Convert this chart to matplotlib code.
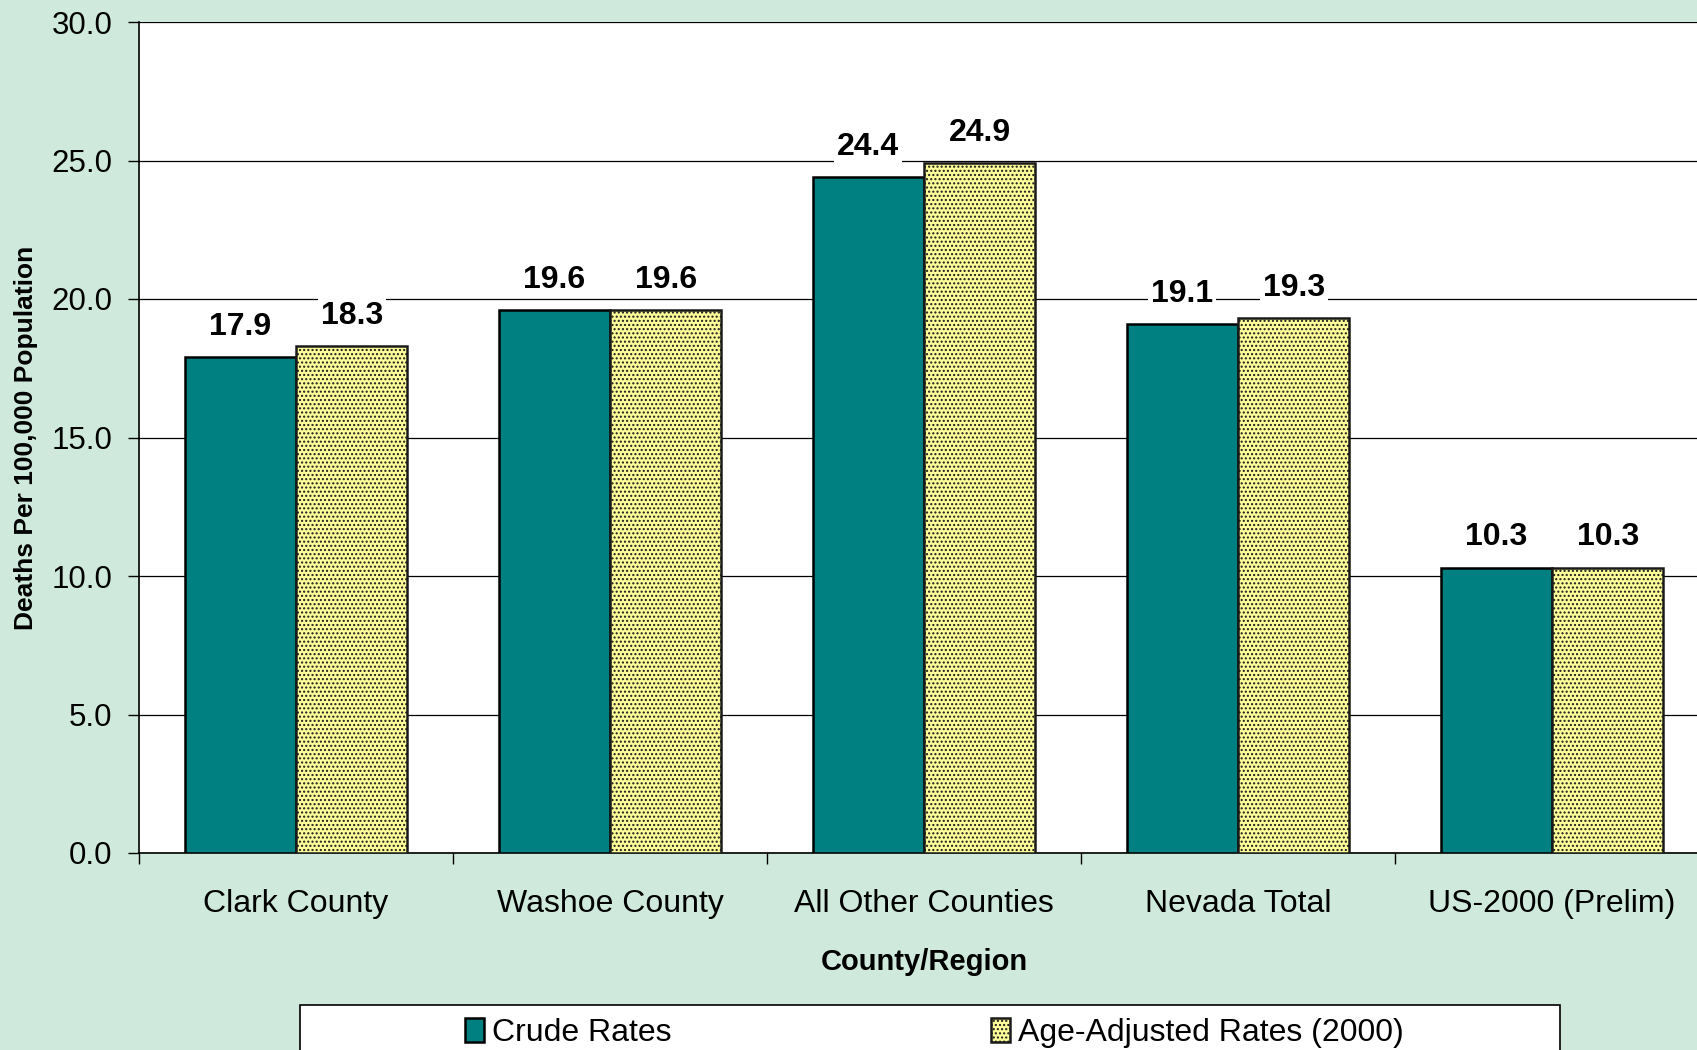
import numpy as np
import matplotlib.pyplot as plt
from matplotlib.patches import Rectangle, Patch
from matplotlib.ticker import FormatStrFormatter, FixedLocator

plt.rcParams["font.family"] = ["Liberation Sans", "DejaVu Sans"]
plt.rcParams["hatch.linewidth"] = 1.0

# ── data ──────────────────────────────────────────────────────────────────────
regions = ["Clark County", "Washoe County", "All Other Counties",
           "Nevada Total", "US-2000 (Prelim)"]
crude = [17.9, 19.6, 24.4, 19.1, 10.3]
age_adj = [18.3, 19.6, 24.9, 19.3, 10.3]
series_names = ["Crude Rates", "Age-Adjusted Rates (2000)"]

BG = "#CFEADC"
TEAL = "#008080"
YELLOW = "#FFFF99"
EDGE = "#1a1a1a"

fig = plt.figure(figsize=(16.97, 10.5), dpi=100, facecolor=BG)
ax = fig.add_axes([139 / 1697, 1 - 853 / 1050, 1570 / 1697, (853 - 22) / 1050])
ax.set_facecolor("white")

x = np.arange(len(regions))
w = 0.355
b1 = ax.bar(x - w / 2, crude, w, color=TEAL, edgecolor="black", lw=1.8, zorder=3)
b2 = ax.bar(x + w / 2, age_adj, w, color=YELLOW, edgecolor=EDGE, lw=1.8,
            hatch="....", zorder=3)

for bars, vals in ((b1, crude), (b2, age_adj)):
    for rect, v in zip(bars, vals):
        ax.annotate(f"{v:.1f}", (rect.get_x() + rect.get_width() / 2, v),
                    xytext=(0, 11), textcoords="offset points",
                    ha="center", va="bottom", fontsize=23, fontweight="bold",
                    bbox=dict(facecolor="white", edgecolor="none", pad=2),
                    zorder=5)

ax.set_xlim(-0.5, len(regions) - 0.5)
ax.set_ylim(0, 30)
ax.set_yticks(np.arange(0, 30.1, 5))
ax.yaxis.set_major_formatter(FormatStrFormatter("%.1f"))
ax.yaxis.grid(True, color="black", lw=0.9)
ax.set_axisbelow(True)

ax.set_xticks(x)
ax.set_xticklabels(regions, fontsize=23)
ax.xaxis.set_minor_locator(FixedLocator(np.arange(-0.5, len(regions), 1.0)))
ax.tick_params(axis="x", which="major", length=0, pad=26)
ax.tick_params(axis="x", which="minor", length=8, width=1, direction="out")
ax.tick_params(axis="y", labelsize=22.5, length=8, width=1, direction="out", pad=11)

for s in ("top", "right"):
    ax.spines[s].set_visible(False)
ax.spines["left"].set_linewidth(1.2)
ax.spines["bottom"].set_linewidth(1.2)

ax.set_xlabel("County/Region", fontsize=21, fontweight="bold", labelpad=21)
ax.set_ylabel("Deaths Per 100,000 Population", fontsize=19, fontweight="bold",
              labelpad=10)

# legend box (runs off the bottom edge like the original)
fig.patches.append(Rectangle((300 / 1697, -0.02), 1260 / 1697, 0.02 + 45 / 1050,
                             transform=fig.transFigure, facecolor="white",
                             edgecolor="black", lw=1.2, zorder=1))
handles = [Patch(facecolor=TEAL, edgecolor="black", lw=1.8),
           Patch(facecolor=YELLOW, edgecolor=EDGE, lw=1.8, hatch="....")]
fig.legend(handles, series_names, loc="upper center", ncol=2,
           bbox_to_anchor=(934 / 1697, 1 - 1002 / 1050), frameon=False,
           fontsize=23, handlelength=0.6, handleheight=0.75, handletextpad=0.25,
           columnspacing=10.0, borderpad=0.0)

fig.savefig("out.png", dpi=100, facecolor=BG)
